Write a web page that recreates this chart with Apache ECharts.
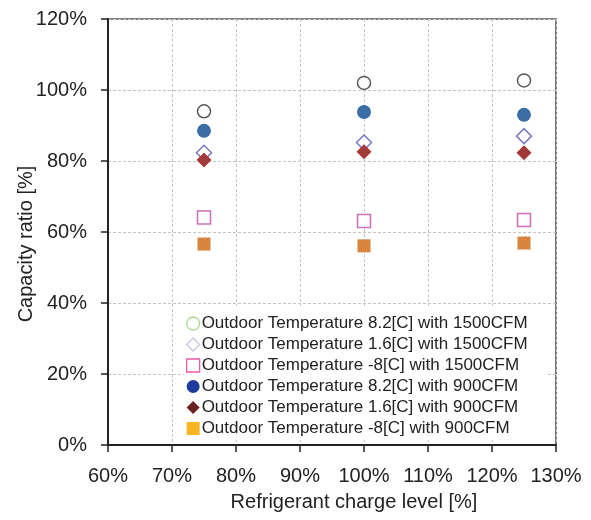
<!DOCTYPE html>
<html>
<head>
<meta charset="utf-8">
<script src="https://cdn.jsdelivr.net/npm/echarts@6/dist/echarts.min.js"></script>
<style>html,body{margin:0;padding:0;background:#fff;}#c{width:591px;height:520px;}</style>
</head>
<body>
<div id="c"></div>
<script>
const chargeLevels = [75, 100, 125];
const seriesNames = [
  'Outdoor Temperature 8.2[C] with 1500CFM',
  'Outdoor Temperature 1.6[C] with 1500CFM',
  'Outdoor Temperature -8[C] with 1500CFM',
  'Outdoor Temperature 8.2[C] with 900CFM',
  'Outdoor Temperature 1.6[C] with 900CFM',
  'Outdoor Temperature -8[C] with 900CFM'
];
const t82_1500 = [94.0, 102.0, 102.7];
const t16_1500 = [82.3, 85.2, 87.0];
const tm8_1500 = [64.1, 63.1, 63.4];
const t82_900 = [88.5, 93.8, 93.0];
const t16_900 = [80.3, 82.6, 82.3];
const tm8_900 = [56.6, 56.1, 56.9];
const xTicks = [60, 70, 80, 90, 100, 110, 120, 130];
const yTicks = [0, 20, 40, 60, 80, 100, 120];

const seriesValues = [t82_1500, t16_1500, tm8_1500, t82_900, t16_900, tm8_900];
const styles = [
  {symbol:'circle', size:13, item:{color:'#fff', borderColor:'#5a5a5a', borderWidth:1.5, opacity:1}, legend:{color:'#fff', borderColor:'#a9d78b', borderWidth:1.3}},
  {symbol:'diamond', size:15, item:{color:'#fff', borderColor:'#7a78c6', borderWidth:1.5, opacity:1}, legend:{color:'#fff', borderColor:'#c9c6e6', borderWidth:1.3}},
  {symbol:'rect', size:13, item:{color:'#fff', borderColor:'#cf6fb8', borderWidth:1.5, opacity:1}, legend:{color:'#fff', borderColor:'#f05aa6', borderWidth:1.3}},
  {symbol:'circle', size:14, item:{color:'#3a6ea5', opacity:1}, legend:{color:'#1f3b9b'}},
  {symbol:'diamond', size:15, item:{color:'#a33a3a', opacity:1}, legend:{color:'#6b2222'}},
  {symbol:'rect', size:13, item:{color:'#d9843d', opacity:1}, legend:{color:'#f6b623'}}
];

const chart = echarts.init(document.getElementById('c'), null, {renderer:'canvas'});
const series = seriesNames.map((n, i) => ({
  name: n,
  type: 'scatter',
  symbol: styles[i].symbol,
  symbolSize: styles[i].size,
  itemStyle: styles[i].item,
  data: chargeLevels.map((x, j) => [x, seriesValues[i][j]])
}));
const font = 'Liberation Sans, Arial, sans-serif';
const gridLine = {show:true, lineStyle:{color:'#c4c4c4', type:[3,2], width:1}};
chart.setOption({
  animation: false,
  backgroundColor: '#fff',
  grid: {left:108, right:35, top:19, bottom:75, show:true, borderColor:'#555', borderWidth:1.6, containLabel:false, outerBoundsMode:'none'},
  legend: {
    data: seriesNames.map((n, i) => ({name:n, icon:styles[i].symbol, itemStyle:styles[i].legend})),
    orient: 'vertical',
    left: 184, top: 306,
    itemWidth: 13, itemHeight: 13, itemGap: 4,
    padding: [9, 20, 3, 2],
    backgroundColor: '#fff',
    textStyle: {fontFamily: font, fontSize: 17, color:'#222', padding:[0,0,0,-3]}
  },
  xAxis: {
    type:'value', min: xTicks[0], max: xTicks[xTicks.length-1], interval: 10,
    name:'Refrigerant charge level [%]', nameLocation:'middle', nameGap:47,
    nameMoveOverlap: false,
    nameTextStyle:{fontFamily:font, fontSize:20, color:'#222', padding:[0,0,0,44]},
    axisLine:{lineStyle:{color:'#222', width:2}},
    axisTick:{show:true, length:7, lineStyle:{color:'#222', width:1.5}},
    axisLabel:{fontFamily:font, fontSize:20, color:'#222', margin:21, formatter:'{value}%'},
    splitLine:gridLine
  },
  yAxis: {
    type:'value', min: yTicks[0], max: yTicks[yTicks.length-1], interval: 20,
    name:'Capacity ratio [%]', nameLocation:'middle', nameGap:72,
    nameMoveOverlap: false,
    nameTextStyle:{fontFamily:font, fontSize:20, color:'#222', padding:[0,24,0,0]},
    axisLine:{show:true, lineStyle:{color:'#222', width:2}},
    axisTick:{show:true, length:7, lineStyle:{color:'#222', width:1.5}},
    axisLabel:{fontFamily:font, fontSize:20, color:'#222', margin:21, formatter:'{value}%'},
    splitLine:gridLine
  },
  series: series
});
</script>
</body>
</html>
